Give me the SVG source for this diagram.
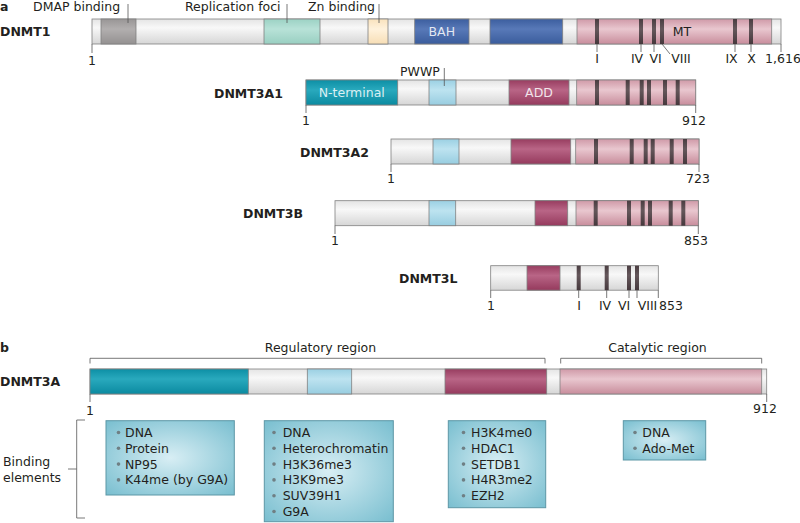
<svg xmlns="http://www.w3.org/2000/svg" width="800" height="523" viewBox="0 0 800 523">
<defs>
<linearGradient id="gGray" x1="0" y1="0" x2="0" y2="1"><stop offset="0" stop-color="#e4e4e4"/><stop offset="0.35" stop-color="#f8f8f8"/><stop offset="1" stop-color="#d6d6d6"/></linearGradient>
<linearGradient id="gDmap" x1="0" y1="0" x2="0" y2="1"><stop offset="0" stop-color="#999696"/><stop offset="0.4" stop-color="#b2afaf"/><stop offset="1" stop-color="#949191"/></linearGradient>
<linearGradient id="gFoci" x1="0" y1="0" x2="0" y2="1"><stop offset="0" stop-color="#9cd2c4"/><stop offset="0.4" stop-color="#b8e2d8"/><stop offset="1" stop-color="#99cfc1"/></linearGradient>
<linearGradient id="gZn" x1="0" y1="0" x2="0" y2="1"><stop offset="0" stop-color="#f9e2bd"/><stop offset="0.4" stop-color="#fff2dc"/><stop offset="1" stop-color="#f7deb6"/></linearGradient>
<linearGradient id="gBah" x1="0" y1="0" x2="0" y2="1"><stop offset="0" stop-color="#3c5e9f"/><stop offset="0.4" stop-color="#5879b8"/><stop offset="1" stop-color="#3a5c9c"/></linearGradient>
<linearGradient id="gMT" x1="0" y1="0" x2="0" y2="1"><stop offset="0" stop-color="#d09aa8"/><stop offset="0.4" stop-color="#e9c7cf"/><stop offset="1" stop-color="#c88d9c"/></linearGradient>
<linearGradient id="gBand" x1="0" y1="0" x2="0" y2="1"><stop offset="0" stop-color="#4a3d41"/><stop offset="0.4" stop-color="#65575b"/><stop offset="1" stop-color="#45383c"/></linearGradient>
<linearGradient id="gNterm" x1="0" y1="0" x2="0" y2="1"><stop offset="0" stop-color="#0d8fa5"/><stop offset="0.4" stop-color="#29a9bd"/><stop offset="1" stop-color="#0b8aa0"/></linearGradient>
<linearGradient id="gPwwp" x1="0" y1="0" x2="0" y2="1"><stop offset="0" stop-color="#9bd0e3"/><stop offset="0.4" stop-color="#bde3f0"/><stop offset="1" stop-color="#98cde0"/></linearGradient>
<linearGradient id="gAdd" x1="0" y1="0" x2="0" y2="1"><stop offset="0" stop-color="#983d60"/><stop offset="0.4" stop-color="#b96586"/><stop offset="1" stop-color="#953a5d"/></linearGradient>
<radialGradient id="gBox" cx="0.5" cy="0.5" r="0.75"><stop offset="0" stop-color="#d8eef4"/><stop offset="1" stop-color="#72bbcd"/></radialGradient>
</defs>
<style>
.seg{stroke:#808080;stroke-width:0.8}
.gray{fill:url(#gGray)}
.dmap{fill:url(#gDmap)}
.foci{fill:url(#gFoci)}
.zn{fill:url(#gZn)}
.bah{fill:url(#gBah)}
.mt{fill:url(#gMT)}
.band{fill:url(#gBand)}
.nterm{fill:url(#gNterm)}
.pwwp{fill:url(#gPwwp)}
.add{fill:url(#gAdd)}
.box{fill:url(#gBox);stroke:#5d97a6;stroke-width:1}
text{font-family:"DejaVu Sans","Liberation Sans",sans-serif;font-size:12.5px;fill:#231f20}
.b{font-weight:bold}
.w{fill:#ffffff;fill-opacity:0.85}
.m{text-anchor:middle}
.bt{font-size:12.5px}
.bul{fill:#6f7f84}
.ln{stroke:#555555;stroke-width:0.8;fill:none}
</style>

<text x="0" y="11" class="b">a</text>
<text x="0" y="352" class="b">b</text>

<g id="dnmt1">
<text x="0" y="36" class="b">DNMT1</text>
<rect x="92" y="19" width="689" height="25" class="seg gray"/>
<rect x="101" y="19" width="35" height="25" class="seg dmap"/>
<rect x="264" y="19" width="56" height="25" class="seg foci"/>
<rect x="368" y="19" width="20" height="25" class="seg zn"/>
<rect x="414.7" y="19" width="54.3" height="25" class="seg bah"/>
<rect x="490" y="19" width="72.7" height="25" class="seg bah"/>
<rect x="577" y="19" width="194.7" height="25" class="seg mt"/>
<rect x="595" y="19" width="4" height="25" class="band"/>
<rect x="639" y="19" width="4" height="25" class="band"/>
<rect x="652" y="19" width="4" height="25" class="band"/>
<rect x="660" y="19" width="4" height="25" class="band"/>
<rect x="733" y="19" width="4" height="25" class="band"/>
<rect x="749" y="19" width="4" height="25" class="band"/>
<text x="441.8" y="36" class="m w">BAH</text>
<text x="682" y="36" class="m" fill="#4a3a3e">MT</text>
<text x="33" y="11">DMAP binding</text>
<text x="185" y="11">Replication foci</text>
<text x="308" y="11">Zn binding</text>
<text x="92" y="65" class="m">1</text>
<text x="597" y="63" class="m">I</text>
<text x="637" y="63" class="m">IV</text>
<text x="655.5" y="63" class="m">VI</text>
<text x="681" y="63" class="m">VIII</text>
<text x="731.5" y="63" class="m">IX</text>
<text x="751.5" y="63" class="m">X</text>
<text x="783" y="63" class="m">1,616</text>
</g>

<g id="dnmt3a1">
<text x="214" y="98" class="b">DNMT3A1</text>
<rect x="306" y="80" width="389.7" height="25" class="seg gray"/>
<rect x="306" y="80" width="91.7" height="25" class="seg nterm"/>
<rect x="429" y="80" width="27" height="25" class="seg pwwp"/>
<rect x="509" y="80" width="60" height="25" class="seg add"/>
<rect x="576.7" y="80" width="119" height="25" class="seg mt"/>
<rect x="595" y="80" width="4" height="25" class="band"/>
<rect x="625.7" y="80" width="4" height="25" class="band"/>
<rect x="639.7" y="80" width="4" height="25" class="band"/>
<rect x="647" y="80" width="4" height="25" class="band"/>
<rect x="663" y="80" width="4" height="25" class="band"/>
<rect x="675.7" y="80" width="4" height="25" class="band"/>
<text x="351.8" y="97" class="m w">N-terminal</text>
<text x="539" y="97" class="m w">ADD</text>
<text x="400" y="76">PWWP</text>
<text x="306" y="125" class="m">1</text>
<text x="694" y="125" class="m">912</text>
</g>

<g id="dnmt3a2">
<text x="300" y="157" class="b">DNMT3A2</text>
<rect x="391" y="139" width="308" height="25" class="seg gray"/>
<rect x="433" y="139" width="26" height="25" class="seg pwwp"/>
<rect x="511" y="139" width="59.7" height="25" class="seg add"/>
<rect x="575.7" y="139" width="123.3" height="25" class="seg mt"/>
<rect x="594" y="139" width="4" height="25" class="band"/>
<rect x="629.7" y="139" width="4" height="25" class="band"/>
<rect x="643.7" y="139" width="4" height="25" class="band"/>
<rect x="650.7" y="139" width="4" height="25" class="band"/>
<rect x="669.7" y="139" width="4" height="25" class="band"/>
<rect x="683" y="139" width="4" height="25" class="band"/>
<text x="391" y="183" class="m">1</text>
<text x="698" y="183" class="m">723</text>
</g>

<g id="dnmt3b">
<text x="243" y="218" class="b">DNMT3B</text>
<rect x="335" y="200.7" width="363.3" height="25" class="seg gray"/>
<rect x="429" y="200.7" width="26.7" height="25" class="seg pwwp"/>
<rect x="535" y="200.7" width="32.7" height="25" class="seg add"/>
<rect x="576" y="200.7" width="122.3" height="25" class="seg mt"/>
<rect x="593.7" y="200.7" width="4" height="25" class="band"/>
<rect x="627" y="200.7" width="4" height="25" class="band"/>
<rect x="640.7" y="200.7" width="4" height="25" class="band"/>
<rect x="648" y="200.7" width="4" height="25" class="band"/>
<rect x="668.7" y="200.7" width="4" height="25" class="band"/>
<rect x="681.3" y="200.7" width="4" height="25" class="band"/>
<text x="335" y="245" class="m">1</text>
<text x="696" y="245" class="m">853</text>
</g>

<g id="dnmt3l">
<text x="399" y="283" class="b">DNMT3L</text>
<rect x="490.7" y="265.7" width="167.6" height="24.5" class="seg gray"/>
<rect x="527" y="265.7" width="33" height="24.5" class="seg add"/>
<rect x="576.7" y="265.7" width="4" height="24.5" class="band"/>
<rect x="604.7" y="265.7" width="4" height="24.5" class="band"/>
<rect x="627" y="265.7" width="4" height="24.5" class="band"/>
<rect x="635" y="265.7" width="4" height="24.5" class="band"/>
<text x="491" y="310" class="m">1</text>
<text x="579" y="310" class="m">I</text>
<text x="605" y="310" class="m">IV</text>
<text x="624" y="310" class="m">VI</text>
<text x="647.5" y="310" class="m">VIII</text>
<text x="671" y="310" class="m">853</text>
</g>

<g id="dnmt3a">
<text x="0" y="386" class="b">DNMT3A</text>
<rect x="90" y="369" width="676.7" height="25" class="seg gray"/>
<rect x="90" y="369" width="158.3" height="25" class="seg nterm"/>
<rect x="307.3" y="369" width="44.4" height="25" class="seg pwwp"/>
<rect x="445" y="369" width="101.7" height="25" class="seg add"/>
<rect x="560" y="369" width="201.7" height="25" class="seg mt"/>
<text x="320.5" y="352" class="m">Regulatory region</text>
<text x="657.5" y="352" class="m">Catalytic region</text>
<text x="90" y="415" class="m">1</text>
<text x="765" y="413" class="m">912</text>
<text x="3" y="466">Binding</text>
<text x="3" y="482">elements</text>
</g>

<g id="box1">
<rect x="106" y="420.7" width="128.3" height="74.3" class="box"/>
<circle cx="118.5" cy="432.5" r="1.8" class="bul"/><text x="125" y="437" class="bt">DNA</text>
<circle cx="118.5" cy="448.3" r="1.8" class="bul"/><text x="125" y="452.8" class="bt">Protein</text>
<circle cx="118.5" cy="464.1" r="1.8" class="bul"/><text x="125" y="468.6" class="bt">NP95</text>
<circle cx="118.5" cy="479.9" r="1.8" class="bul"/><text x="125" y="484.4" class="bt">K44me (by G9A)</text>
</g>

<g id="box2">
<rect x="264.3" y="420.7" width="129" height="101" class="box"/>
<circle cx="274" cy="432.5" r="1.8" class="bul"/><text x="282.7" y="437" class="bt">DNA</text>
<circle cx="274" cy="448.3" r="1.8" class="bul"/><text x="282.7" y="452.8" class="bt">Heterochromatin</text>
<circle cx="274" cy="464.1" r="1.8" class="bul"/><text x="282.7" y="468.6" class="bt">H3K36me3</text>
<circle cx="274" cy="479.9" r="1.8" class="bul"/><text x="282.7" y="484.4" class="bt">H3K9me3</text>
<circle cx="274" cy="495.7" r="1.8" class="bul"/><text x="282.7" y="500.2" class="bt">SUV39H1</text>
<circle cx="274" cy="511.5" r="1.8" class="bul"/><text x="282.7" y="516" class="bt">G9A</text>
</g>

<g id="box3">
<rect x="448.3" y="420.7" width="97.4" height="87" class="box"/>
<circle cx="463.5" cy="432.5" r="1.8" class="bul"/><text x="471" y="437" class="bt">H3K4me0</text>
<circle cx="463.5" cy="448.3" r="1.8" class="bul"/><text x="471" y="452.8" class="bt">HDAC1</text>
<circle cx="463.5" cy="464.1" r="1.8" class="bul"/><text x="471" y="468.6" class="bt">SETDB1</text>
<circle cx="463.5" cy="479.9" r="1.8" class="bul"/><text x="471" y="484.4" class="bt">H4R3me2</text>
<circle cx="463.5" cy="495.7" r="1.8" class="bul"/><text x="471" y="500.2" class="bt">EZH2</text>
</g>

<g id="box4">
<rect x="623.3" y="420.7" width="82.4" height="39.3" class="box"/>
<circle cx="635" cy="432.5" r="1.8" class="bul"/><text x="642.3" y="437" class="bt">DNA</text>
<circle cx="635" cy="448.3" r="1.8" class="bul"/><text x="642.3" y="452.8" class="bt">Ado-Met</text>
</g>

<g id="connectors" class="ln">
<line x1="128" y1="4" x2="128" y2="23"/>
<line x1="287" y1="4" x2="287" y2="23"/>
<line x1="379" y1="4" x2="379" y2="23"/>
<line x1="92" y1="44" x2="92" y2="53"/>
<line x1="597" y1="44" x2="597" y2="52"/>
<line x1="641" y1="44" x2="641" y2="52"/>
<line x1="654" y1="44" x2="654" y2="52"/>
<polyline points="662,44 670,54"/>
<line x1="735" y1="44" x2="735" y2="52"/>
<line x1="751" y1="44" x2="751" y2="52"/>
<line x1="781" y1="44" x2="781" y2="52"/>
<line x1="444.3" y1="68" x2="444.3" y2="86"/>
<line x1="306" y1="105" x2="306" y2="113"/>
<line x1="695.7" y1="105" x2="695.7" y2="113"/>
<line x1="391" y1="164" x2="391" y2="172"/>
<line x1="699" y1="164" x2="699" y2="172"/>
<line x1="335" y1="225.7" x2="335" y2="234"/>
<line x1="698.3" y1="225.7" x2="698.3" y2="234"/>
<line x1="490.7" y1="290.2" x2="490.7" y2="298"/>
<line x1="578.7" y1="290.2" x2="578.7" y2="298"/>
<line x1="606.7" y1="290.2" x2="606.7" y2="298"/>
<line x1="629" y1="290.2" x2="629" y2="298"/>
<line x1="637" y1="290.2" x2="637" y2="298"/>
<line x1="658.3" y1="290.2" x2="658.3" y2="298"/>
<polyline points="90,363.5 90,358.3 545,358.3 545,363.5"/>
<polyline points="560.7,363.5 560.7,358.3 761.7,358.3 761.7,363.5"/>
<line x1="90" y1="394" x2="90" y2="402"/>
<line x1="766.7" y1="394" x2="766.7" y2="402"/>
<polyline points="85,420 76.7,420 76.7,518 85,518"/>
<line x1="68" y1="469" x2="76.7" y2="469"/>
</g>
</svg>
